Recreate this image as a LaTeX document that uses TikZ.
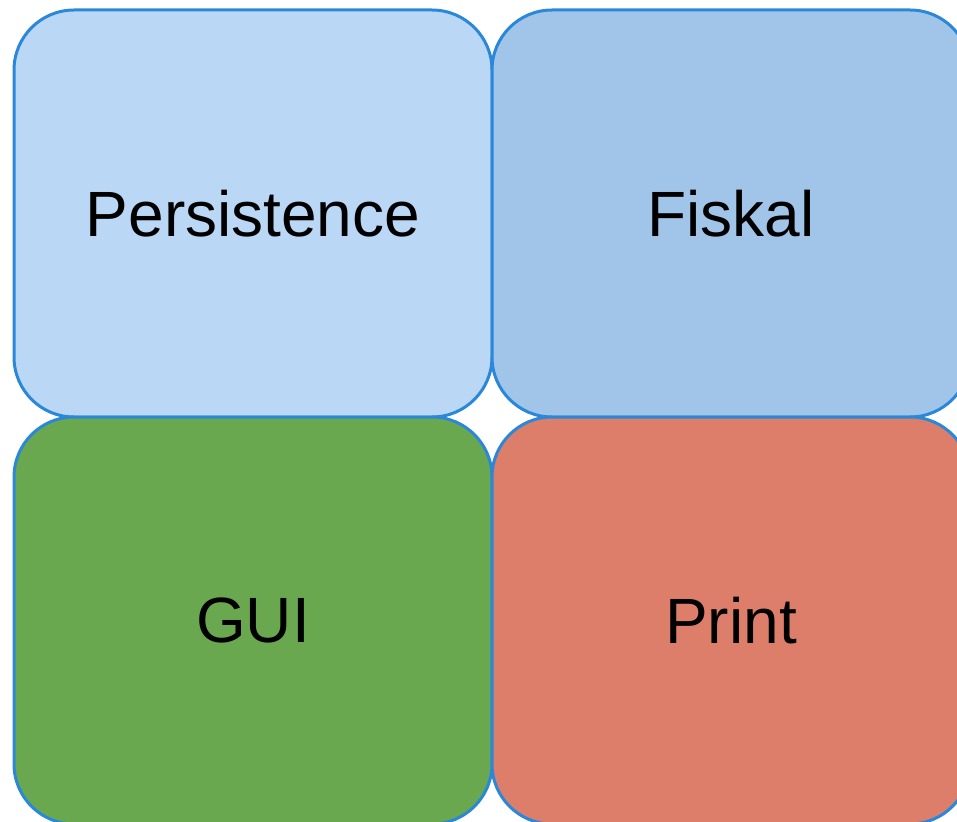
\documentclass[tikz,border=0pt]{standalone}
\usepackage{fontspec}
\setmainfont{Liberation Sans}
\definecolor{edge}{HTML}{2B88D9}
\definecolor{fillA}{HTML}{BAD7F6}
\definecolor{fillB}{HTML}{A0C5E8}
\definecolor{fillC}{HTML}{69A84F}
\definecolor{fillD}{HTML}{DD7E6B}
\tikzset{
  tile/.style={draw=edge, line width=3pt, rounded corners=60pt, inner sep=0pt,
    minimum width=478pt, minimum height=407pt,
    font=\fontsize{64}{70}\selectfont, text=black}
}
\begin{document}
\begin{tikzpicture}[x=1pt,y=-1pt]
\useasboundingbox (0,0) rectangle (957,821);
\node[tile, fill=fillA] (pers) at (253,213.5) {Persistence};
\node[tile, fill=fillB] (fisk) at (731,213.5) {Fiskal};
\node[tile, fill=fillC] (gui) at (253,620.5) {GUI};
\node[tile, fill=fillD] (print) at (731,620.5) {Print};
\end{tikzpicture}
\end{document}
